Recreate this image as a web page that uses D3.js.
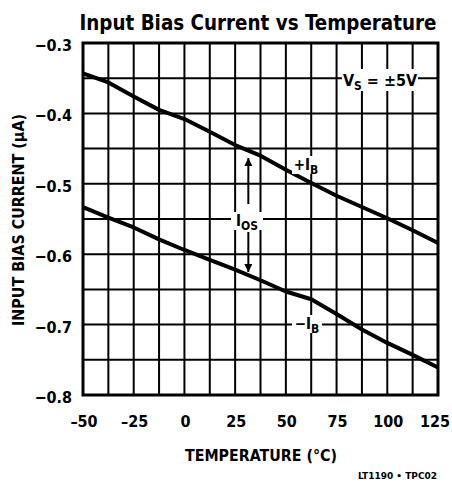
<!DOCTYPE html>
<meta charset="utf-8">
<head>
    <title>Input Bias Current vs Temperature</title>
    <style>
        body { margin: 0; background: #fff; }
        svg { display: block; }
        text { font-family: "Liberation Sans Narrow", "DejaVu Sans Condensed", "Liberation Sans", sans-serif; font-weight: bold; fill: #000; }
    </style>
</head>
<body>
    <script src="https://cdn.jsdelivr.net/npm/d3@7"></script>
    <script>
        // data
        var temps = [-50, -37.5, -25, -12.5, 0, 12.5, 25, 37.5, 50, 62.5, 75, 87.5, 100, 112.5, 125];
        var plusIB = [-0.343, -0.356, -0.376, -0.395, -0.408, -0.426, -0.445, -0.460, -0.480, -0.499, -0.517, -0.533, -0.549, -0.566, -0.584];
        var minusIB = [-0.533, -0.548, -0.562, -0.579, -0.594, -0.608, -0.622, -0.637, -0.653, -0.664, -0.685, -0.707, -0.726, -0.743, -0.761];
        var xTicks = [-50, -25, 0, 25, 50, 75, 100, 125];
        var yTicks = [-0.3, -0.4, -0.5, -0.6, -0.7, -0.8];

        var width = 452, height = 487;
        var margin = { top: 43, right: 14, bottom: 92, left: 83 };

        var svg = d3.select("body").append("svg")
            .attr("width", width)
            .attr("height", height);

        var x = d3.scaleLinear().domain([-50, 125]).range([margin.left, width - margin.right]);
        var y = d3.scaleLinear().domain([-0.8, -0.3]).range([height - margin.bottom, margin.top]);

        function fmt(v) {
            return d3.format(".1f")(v).replace("-", "\u2013");
        }

        // grid
        var grid = svg.append("g").attr("stroke", "#000").attr("stroke-width", 2);
        grid.selectAll("line.v").data(d3.range(-50, 126, 12.5)).enter().append("line")
            .attr("x1", d => x(d)).attr("x2", d => x(d))
            .attr("y1", y(-0.3)).attr("y2", y(-0.8));
        grid.selectAll("line.h").data(d3.range(0, 11).map(i => -0.3 - i * 0.05)).enter().append("line")
            .attr("x1", x(-50)).attr("x2", x(125))
            .attr("y1", d => y(d)).attr("y2", d => y(d));

        // frame
        svg.append("rect")
            .attr("x", x(-50)).attr("y", y(-0.3))
            .attr("width", x(125) - x(-50)).attr("height", y(-0.8) - y(-0.3))
            .attr("fill", "none").attr("stroke", "#000").attr("stroke-width", 3);

        // curves
        var line = d3.line().x((d, i) => x(temps[i])).y(d => y(d));
        [plusIB, minusIB].forEach(function (s) {
            svg.append("path").datum(s)
                .attr("d", line)
                .attr("fill", "none")
                .attr("stroke", "#000")
                .attr("stroke-width", 4)
                .attr("stroke-linejoin", "round");
        });

        // labels with white boxes
        function label(cx, cy, w, h, parts, size) {
            svg.append("rect").attr("x", cx - w / 2).attr("y", cy - h / 2)
                .attr("width", w).attr("height", h).attr("fill", "#fff");
            var t = svg.append("text").attr("x", cx).attr("y", cy + size * 0.36)
                .attr("text-anchor", "middle").style("font-size", size + "px");
            parts.forEach(function (p) {
                t.append("tspan").text(p[0]).attr("dy", p[1]).style("font-size", (p[2] || size) + "px");
            });
        }
        label(380, 80, 76, 22, [["V", 0], ["S", 4, 12], [" = \u00b15V", -4]], 16);
        label(306, 165, 28, 18, [["+I", 0], ["B", 4, 12]], 15);
        label(307, 324, 30, 18, [["\u2212I", 0], ["B", 4, 12]], 15);
        label(247, 221, 32, 18, [["I", 0], ["OS", 4, 12]], 15);

        // I_OS arrows
        var ax = x(31.5);
        svg.append("defs").append("marker")
            .attr("id", "head").attr("viewBox", "0 0 10 10")
            .attr("refX", 10).attr("refY", 5)
            .attr("markerWidth", 5.5).attr("markerHeight", 4)
            .attr("markerUnits", "strokeWidth")
            .attr("orient", "auto")
            .append("path").attr("d", "M0,0L10,5L0,10Z").attr("fill", "#000");
        svg.append("line").attr("x1", ax).attr("x2", ax)
            .attr("y1", 204).attr("y2", 158)
            .attr("stroke", "#000").attr("stroke-width", 2).attr("marker-end", "url(#head)");
        svg.append("line").attr("x1", ax).attr("x2", ax)
            .attr("y1", 232).attr("y2", 272)
            .attr("stroke", "#000").attr("stroke-width", 2).attr("marker-end", "url(#head)");

        // tick labels
        svg.selectAll("text.yt").data(yTicks).enter().append("text")
            .attr("x", 72).attr("y", d => y(d) + 8)
            .attr("text-anchor", "end")
            .style("font-size", "16px")
            .text(fmt);
        svg.selectAll("text.xt").data(xTicks).enter().append("text")
            .attr("x", d => x(d) + (d === 125 ? -3 : 1)).attr("y", 427)
            .attr("text-anchor", "middle")
            .style("font-size", "16px")
            .text(d => String(d).replace("-", "\u2013"));

        // titles
        svg.append("text")
            .attr("x", 258).attr("y", 30)
            .attr("text-anchor", "middle")
            .attr("textLength", 357).attr("lengthAdjust", "spacingAndGlyphs")
            .style("font-size", "21px")
            .text("Input Bias Current vs Temperature");

        svg.append("text")
            .attr("x", 261).attr("y", 461)
            .attr("text-anchor", "middle")
            .attr("textLength", 152).attr("lengthAdjust", "spacingAndGlyphs")
            .style("font-size", "16px")
            .text("TEMPERATURE (\u00b0C)");

        svg.append("text")
            .attr("transform", "translate(24,220) rotate(-90)")
            .attr("text-anchor", "middle")
            .attr("textLength", 212).attr("lengthAdjust", "spacingAndGlyphs")
            .style("font-size", "15px")
            .text("INPUT BIAS CURRENT (\u00b5A)");

        svg.append("text")
            .attr("x", 437).attr("y", 479)
            .attr("text-anchor", "end")
            .attr("textLength", 79).attr("lengthAdjust", "spacingAndGlyphs")
            .style("font-size", "9px")
            .text("LT1190 \u2022 TPC02");
    </script>
</body>
</html>
